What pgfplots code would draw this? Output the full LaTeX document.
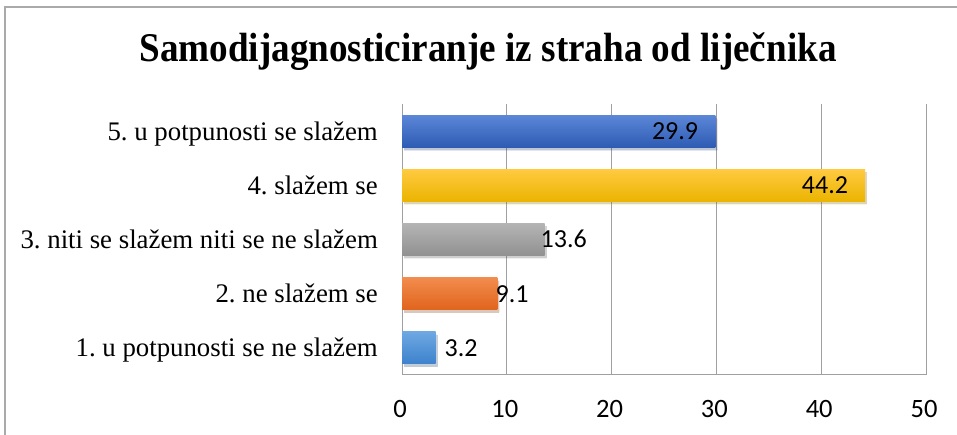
\documentclass[border=0pt]{standalone}
\usepackage{fontspec}
\setmainfont{Liberation Serif}
\newfontfamily\calibri{Carlito}
\usepackage{pgfplots}
\pgfplotsset{compat=1.18}
\frenchspacing
\definecolor{gridgray}{RGB}{160,160,160}
\definecolor{frame}{RGB}{170,170,170}
\definecolor{b5t}{RGB}{92,135,216}\definecolor{b5b}{RGB}{46,92,180}
\definecolor{b4t}{RGB}{255,202,64}\definecolor{b4b}{RGB}{235,180,0}
\definecolor{b3t}{RGB}{180,180,180}\definecolor{b3b}{RGB}{145,145,145}
\definecolor{b2t}{RGB}{242,140,78}\definecolor{b2b}{RGB}{224,100,28}
\definecolor{b1t}{RGB}{110,168,226}\definecolor{b1b}{RGB}{60,130,204}
\begin{document}
\frenchspacing
\begin{tikzpicture}[x=1pt,y=1pt]
\useasboundingbox (0,0) rectangle (957,435);
\draw[frame, line width=1.3pt] (5,0) -- (5,428) -- (957,428);
\node[anchor=base, inner sep=0, font=\fontsize{40.8}{48}\selectfont\bfseries] at (488,373) {\scalebox{0.91}[1]{Samodijagnosticiranje iz straha od liječnika}};
\begin{axis}[
  at={(402pt,60pt)}, anchor=south west, scale only axis,
  width=524pt, height=271pt,
  xmin=0, xmax=50, ymin=0.5, ymax=5.5,
  xbar, bar width=32pt, bar shift=0pt,
  axis x line=bottom, axis y line=left,
  axis line style={-, draw=gridgray, line width=1pt},
  y axis line style={draw=none},
  xmajorgrids, grid style={gridgray, line width=1pt},
  xtick={0,10,20,30,40,50},
  major tick length=0pt,
  /pgf/number format/assume math mode=true,
  xticklabel style={font=\calibri\fontsize{26.5}{32}\selectfont, anchor=north, inner sep=0pt, text height=17pt, text depth=0pt, yshift=-25pt, xshift=-2pt},
  ytick={1,2,3,4,5},
  yticklabels={1. u potpunosti se ne slažem, 2. ne slažem se, 3. niti se slažem niti se ne slažem, 4. slažem se\ , 5. u potpunosti se slažem},
  yticklabel style={font=\fontsize{26.8}{32}\selectfont, anchor=east, inner sep=0pt, text height=18pt, text depth=0pt, xshift=-24pt},
  point meta=explicit symbolic,
  nodes near coords,
  every node near coord/.append style={font=\calibri\fontsize{26}{32}\selectfont, inner sep=0pt, text height=17pt, text depth=0pt, black},
  clip=false,
]
\addplot[draw=none, top color=b5t, bottom color=b5b, preaction={fill=black, opacity=0.15, transform canvas={xshift=2pt,yshift=-3pt}}, nodes near coords style={anchor=east, xshift=-17pt}] coordinates {(29.9,5) [29.9]};
\addplot[draw=none, top color=b4t, bottom color=b4b, preaction={fill=black, opacity=0.15, transform canvas={xshift=2pt,yshift=-3pt}}, nodes near coords style={anchor=east, xshift=-17pt}] coordinates {(44.2,4) [44.2]};
\addplot[draw=none, top color=b3t, bottom color=b3b, preaction={fill=black, opacity=0.15, transform canvas={xshift=2pt,yshift=-3pt}}, nodes near coords style={anchor=west, xshift=-4pt}] coordinates {(13.6,3) [13.6]};
\addplot[draw=none, top color=b2t, bottom color=b2b, preaction={fill=black, opacity=0.15, transform canvas={xshift=2pt,yshift=-3pt}}, nodes near coords style={anchor=west, xshift=-2pt}] coordinates {(9.1,2) [9.1]};
\addplot[draw=none, top color=b1t, bottom color=b1b, preaction={fill=black, opacity=0.15, transform canvas={xshift=2pt,yshift=-3pt}}, nodes near coords style={anchor=west, xshift=9pt}] coordinates {(3.2,1) [3.2]};
\end{axis}
\end{tikzpicture}
\end{document}
